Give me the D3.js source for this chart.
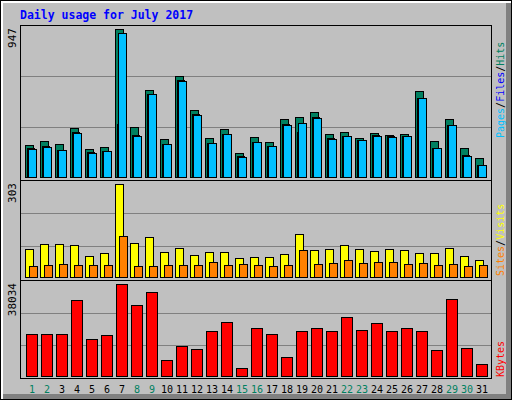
<!DOCTYPE html>
<html><head><meta charset="utf-8">
<script src="https://cdnjs.cloudflare.com/ajax/libs/d3/7.8.5/d3.min.js"></script>
<style>body{margin:0;background:#fff}</style>
</head><body>
<script>
// daily values
const days = d3.range(1, 32);
const weekend = [1, 2, 8, 9, 15, 16, 22, 23, 29, 30];
const hits = [202,228,209,312,177,190,947,318,555,241,644,427,248,305,152,254,222,369,382,414,273,286,248,280,267,273,548,228,369,184,120];
const files = [185,196,173,286,158,164,337,267,529,209,619,401,216,273,132,222,196,337,286,382,248,260,235,267,260,260,504,184,331,139,75];
const pages = [177,190,171,280,152,164,919,260,529,209,612,395,216,273,126,222,196,331,344,376,241,260,235,260,254,260,504,184,331,132,75];
const sites = [90,107,107,104,68,77,303,110,130,81,94,71,81,81,61,64,64,74,140,87,90,104,90,84,90,87,77,77,94,68,55];
const visits = [35,38,41,38,38,38,133,35,35,38,38,38,48,38,41,38,35,38,87,41,45,55,45,48,48,41,45,38,41,35,38];
const kbytes = [17230,17230,17230,31375,15150,16810,38034,29300,34700,6820,12230,10990,18480,22220,3500,19720,17230,7660,18480,19720,18480,24300,18890,21800,18480,19720,18480,10570,31790,11400,5160];

const W = 512, H = 400;
const svg = d3.select("body").append("svg").attr("width", W).attr("height", H)
  .style("font-family", "DejaVu Sans Mono, monospace");

// background + bevel
svg.append("rect").attr("width", W).attr("height", H).attr("fill", "#000");
svg.append("rect").attr("x", 1).attr("y", 1).attr("width", W - 2).attr("height", H - 2).attr("fill", "#fff");
svg.append("rect").attr("x", 3).attr("y", 3).attr("width", W - 4).attr("height", H - 4).attr("fill", "#808080");
svg.append("rect").attr("x", 3).attr("y", 3).attr("width", W - 9).attr("height", H - 9).attr("fill", "#c0c0c0");

svg.append("text").attr("x", 20).attr("y", 19).attr("fill", "#0000ff")
  .attr("font-weight", "bold").attr("font-size", "11.5px").text("Daily usage for July 2017");

const x = d3.scaleBand().domain(days).range([24, 489]).paddingInner(0);
const L = 20, R = 491;

function panel(top, base, max) {
  const y = d3.scaleLinear().domain([0, max]).range([base, top + 4]);
  const g = svg.append("g");
  g.append("rect").attr("x", L).attr("y", top).attr("width", R - L).attr("height", base + (top === 280 ? 2 : 3) - top)
    .attr("fill", "#c0c0c0").attr("stroke", "none");
  g.selectAll("line.grid").data([0.335, 0.683]).join("line")
    .attr("x1", L).attr("x2", R).attr("y1", d => Math.round(y(d * max)) + 0.5).attr("y2", d => Math.round(y(d * max)) + 0.5)
    .attr("stroke", "#808080");
  g.append("text").attr("transform", `translate(${L - 4},${top + 3}) rotate(-90)`)
    .attr("text-anchor", "end").attr("font-size", "11px").attr("fill", "#000").text(max);
  return y;
}

function bars(y, vals, dx, w, fill) {
  svg.append("g").selectAll("rect").data(vals).join("rect")
    .attr("x", (d, i) => x(days[i]) + dx + 0.5).attr("y", d => Math.round(y(d)) + 0.5)
    .attr("width", w).attr("height", d => y(0) - Math.round(y(d)))
    .attr("fill", fill).attr("stroke", "#000");
}

const y1 = panel(25, 177, 947);
bars(y1, hits, 1, 8, "#008060");
bars(y1, files, 3, 7, "#0000ff");
bars(y1, pages, 4, 8, "#00c0ff");

const y2 = panel(180, 277, 303);
bars(y2, sites, 1, 8, "#ffff00");
bars(y2, visits, 5, 8, "#ff8000");

const y3 = panel(280, 376, 38034);
bars(y3, kbytes, 2, 11, "#ff0000");

// frames
[[25, 180], [180, 280], [280, 378]].forEach(([t, b]) => {
  svg.append("line").attr("x1", L).attr("x2", R).attr("y1", t + 0.5).attr("y2", t + 0.5).attr("stroke", "#000");
  svg.append("line").attr("x1", L + 0.5).attr("x2", L + 0.5).attr("y1", t).attr("y2", b).attr("stroke", "#000");
  svg.append("line").attr("x1", R + 0.5).attr("x2", R + 0.5).attr("y1", t).attr("y2", b).attr("stroke", "#000");
  svg.append("line").attr("x1", L).attr("x2", R + 1).attr("y1", b - 0.5 + 1).attr("y2", b - 0.5 + 1).attr("stroke", "#fff").attr("stroke-width", 1);
});
svg.append("line").attr("x1", L).attr("x2", R + 1).attr("y1", 378.5).attr("y2", 378.5).attr("stroke", "#000");

// day labels
svg.append("g").selectAll("text").data(days).join("text")
  .attr("x", d => x(d) + 8).attr("y", 393).attr("text-anchor", "middle").attr("font-size", "10px")
  .attr("fill", d => weekend.includes(d) ? "#008060" : "#000").text(d => d);

// right legends
function legend(yEnd, parts) {
  const t = svg.append("text").attr("transform", `translate(504,${yEnd}) rotate(-90)`)
    .attr("font-size", "10px").attr("text-anchor", "start");
  parts.forEach(([s, c]) => t.append("tspan").attr("fill", c).text(s));
}
legend(138, [["Pages", "#00c0ff"], ["/", "#000"], ["Files", "#0000ff"], ["/", "#000"], ["Hits", "#008060"]]);
legend(276, [["Sites", "#ff8000"], ["/", "#000"], ["Visits", "#ffff00"]]);
legend(377, [["KBytes", "#ff0000"]]);
</script>
</body></html>
